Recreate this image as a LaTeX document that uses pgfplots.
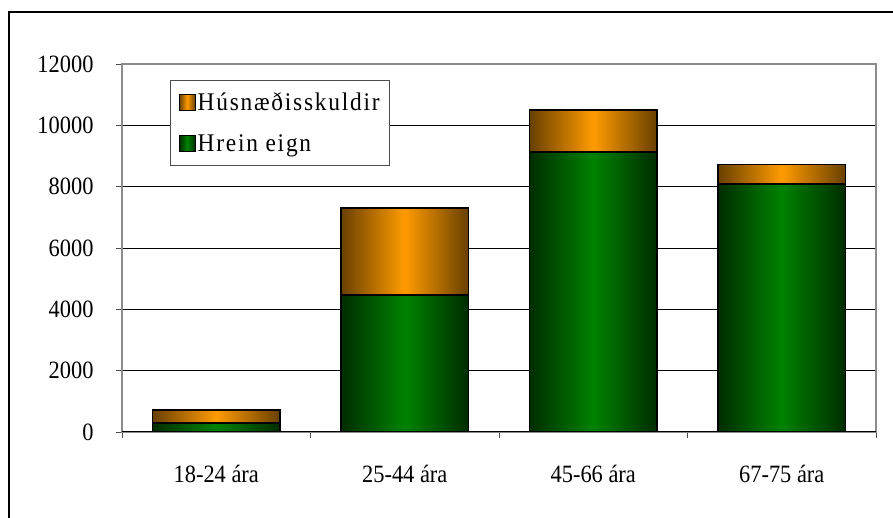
\documentclass[border=0pt]{standalone}
\usepackage{pgfplots}
\pgfplotsset{compat=1.18}
\usepackage{fontspec}
\setmainfont[FakeStretch=0.9]{Liberation Serif}
\newfontfamily\legfont[FakeStretch=0.92,LetterSpace=7]{Liberation Serif}
\definecolor{gmid}{RGB}{0,130,0}
\definecolor{gedge}{RGB}{0,45,0}
\definecolor{omid}{RGB}{255,155,0}
\definecolor{oedge}{RGB}{105,64,0}
\begin{document}
\begin{tikzpicture}[x=1bp,y=1bp,font=\fontsize{25}{28}\selectfont]
\path[use as bounding box] (0,0) rectangle (893,518);
\draw[black, line width=2.2bp] (9,-2) -- (9,506) -- (895,506);
\begin{axis}[at={(122bp,86bp)}, anchor=south west, scale only axis,
  width=754bp, height=368bp,
  xmin=-0.5, xmax=3.5, ymin=0, ymax=12000,
  no marks,
  xtick={0,1,2,3}, xticklabels={18-24 ára,25-44 ára,45-66 ára,67-75 ára},
  minor xtick={-0.5,0.5,1.5,2.5,3.5},
  ytick={0,2000,...,12000},
  scaled y ticks=false,
  /pgf/number format/set thousands separator={},
  /pgf/number format/assume math mode=true,
  tick align=outside,
  major tick length=6bp, minor tick length=6bp,
  major x tick style={draw=none},
  minor x tick style={black!70, line width=0.8bp},
  major y tick style={black!70, line width=0.8bp},
  xtick pos=bottom, ytick pos=left,
  ymajorgrids, grid style={black, line width=0.8bp},
  axis line style={black!45, line width=1.2bp},
  xticklabel style={yshift=-24bp},
  yticklabel style={xshift=-19bp},
  legend style={at={(axis description cs:0.064,0.957)}, anchor=north west,
    draw=black!70, line width=1bp, fill=white, row sep=19bp, inner xsep=8bp, inner ysep=10bp,
    cells={anchor=west}, font=\fontsize{25.5}{28}\selectfont\legfont},
  legend image code/.code={\draw[#1, line width=0.9bp] (0bp,-8bp) rectangle (16bp,8bp);},
  gbar/.style={draw=black, line width=1.5bp, left color=gedge, right color=gedge, middle color=gmid, forget plot},
  obar/.style={draw=black, line width=1.5bp, left color=oedge, right color=oedge, middle color=omid, forget plot},
]
\addlegendimage{draw=black, left color=oedge, right color=oedge, middle color=omid}
\addlegendentry{Húsnæðisskuldir}
\addlegendimage{draw=black, left color=gedge, right color=gedge, middle color=gmid}
\addlegendentry{Hrein eign}
% Hrein eign (bottom segments)
\addplot[gbar] coordinates {(-0.337,0) (-0.337,300) (0.337,300) (0.337,0) (-0.337,0)};
\addplot[gbar] coordinates {(0.663,0) (0.663,4470) (1.337,4470) (1.337,0) (0.663,0)};
\addplot[gbar] coordinates {(1.663,0) (1.663,9130) (2.337,9130) (2.337,0) (1.663,0)};
\addplot[gbar] coordinates {(2.663,0) (2.663,8090) (3.337,8090) (3.337,0) (2.663,0)};
% Husnaedisskuldir (top segments)
\addplot[obar] coordinates {(-0.337,300) (-0.337,720) (0.337,720) (0.337,300) (-0.337,300)};
\addplot[obar] coordinates {(0.663,4470) (0.663,7300) (1.337,7300) (1.337,4470) (0.663,4470)};
\addplot[obar] coordinates {(1.663,9130) (1.663,10500) (2.337,10500) (2.337,9130) (1.663,9130)};
\addplot[obar] coordinates {(2.663,8090) (2.663,8730) (3.337,8730) (3.337,8090) (2.663,8090)};
\draw[black, line width=1bp] (axis cs:-0.5,0) -- (axis cs:3.5,0);
\end{axis}
\end{tikzpicture}
\end{document}
